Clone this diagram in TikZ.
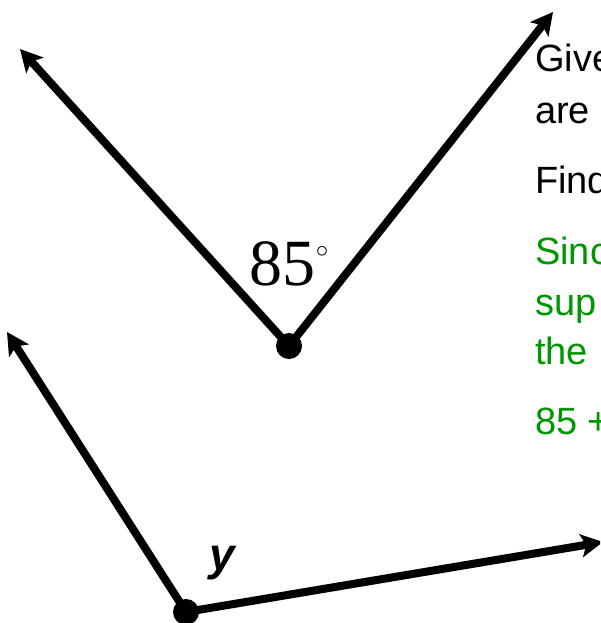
\documentclass[tikz,border=0pt]{standalone}
\usepackage{fontspec}
\setmainfont{Liberation Sans}
\newfontfamily\timesfont{Liberation Serif}
\usetikzlibrary{arrows.meta}
\definecolor{answergreen}{RGB}{0,150,0}

\begin{document}
\begin{tikzpicture}[
      x=1pt, y=-1pt,
      % Define styles for the elements
      ray/.style={
          -{Stealth[length=22pt, width=23pt, inset=5pt]},
          line width=8pt
        },
      vertex/.style={
          circle,
          fill=black,
          inner sep=0pt,
          minimum size=26pt
        },
      slide/.style={
          anchor=base west,
          inner sep=0pt,
          font=\fontsize{38}{46}\selectfont
        },
      answer/.style={
          slide,
          text=answergreen
        }
    ]

    \useasboundingbox (0,0) rectangle (600,623);
    \clip (0,0) rectangle (600,623);

    % Place the vertices and the ray ends
    \node[vertex] (top) at (289,346) {};
    \node[vertex] (bottom) at (186,612) {};
    \coordinate (topleft) at (20,49);
    \coordinate (topright) at (553,12);
    \coordinate (bottomleft) at (7,332);
    \coordinate (bottomright) at (603,542);

    % Draw the rays of both angles
    \draw[ray] (top.center) -- (topleft);
    \draw[ray] (top.center) -- (topright);
    \draw[ray] (bottom.center) -- (bottomleft);
    \draw[ray] (bottom.center) -- (bottomright);

    % Angle labels
    \node[inner sep=0pt, anchor=base, font=\timesfont\fontsize{66}{66}\selectfont] (angle) at (289,285)
      {85\raisebox{0.42em}{\fontsize{28}{28}\selectfont$\circ$}};
    \node[inner sep=0pt, anchor=base, font=\fontsize{46}{46}\selectfont\bfseries\itshape] (ylabel) at (222,570) {y};

    % Text on the right (cut by the edge)
    \node[slide] (give) at (535,72) {Give};
    \node[slide] (are) at (535,123) {are};
    \node[slide] (find) at (535,193) {Find};
    \node[answer] (since) at (535,264) {Sinc};
    \node[answer] (sup) at (535,315) {sup};
    \node[answer] (the) at (535,364) {the};
    \node[answer] (sum) at (535,434) {85 +};

  \end{tikzpicture}
\end{document}
